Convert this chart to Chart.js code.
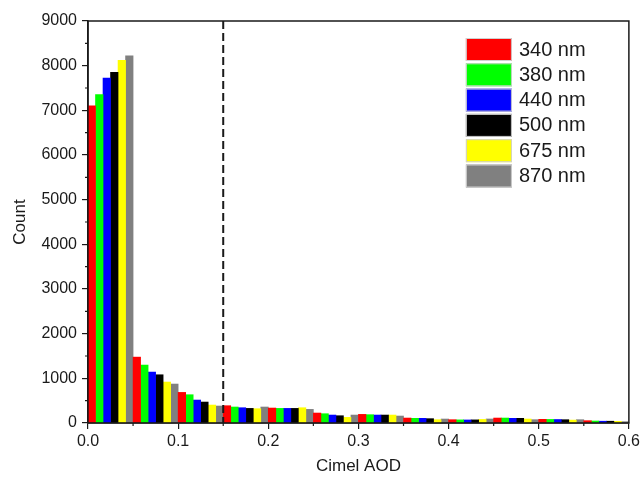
<!DOCTYPE html>
<html>
<head>
<meta charset="utf-8">
<script src="https://cdn.jsdelivr.net/npm/chart.js@4"></script>
<style>
  html, body { margin: 0; padding: 0; background: #fff; }
  canvas { display: block; }
</style>
</head>
<body>
<canvas id="chart" width="643" height="480"></canvas>
<script>
// bin centres of the 0.05-wide AOD bins
const binCenters = [0.025, 0.075, 0.125, 0.175, 0.225, 0.275, 0.325, 0.375, 0.425, 0.475, 0.525, 0.575]

const wavelengths = ['340 nm', '380 nm', '440 nm', '500 nm', '675 nm', '870 nm']
const colors = ['#ff0000', '#00ff00', '#0000ff', '#000000', '#ffff00', '#808080']

const count340 = [7100, 1475, 685, 387, 335, 223, 193, 111, 74, 111, 82, 52]
const count380 = [7350, 1297, 633, 358, 327, 208, 186, 104, 70, 111, 80, 45]
const count440 = [7720, 1140, 514, 342, 327, 178, 178, 104, 68, 104, 78, 40]
const count500 = [7850, 1080, 469, 327, 327, 163, 178, 97, 70, 104, 74, 40]
const count675 = [8120, 917, 402, 320, 342, 126, 178, 74, 80, 89, 65, 38]
const count870 = [8220, 872, 380, 358, 305, 178, 156, 89, 90, 74, 74, 30]

const yTicksMinor = [500, 1500, 2500, 3500, 4500, 5500, 6500, 7500, 8500]
const xTicksMinor = [0.05, 0.15, 0.25, 0.35, 0.45, 0.55]
const cutoff = 0.15

const series = [count340, count380, count440, count500, count675, count870]
const font = 'Liberation Sans, Arial, sans-serif'
const ink = '#1a1a1a'

const frame = {
  id: 'frame',
  afterDatasetsDraw(chart) {
    const { ctx, chartArea: a, scales } = chart
    ctx.save()
    // dashed cutoff line
    const xc = scales.x.getPixelForValue(cutoff)
    ctx.strokeStyle = ink
    ctx.lineWidth = 2
    ctx.setLineDash([8, 4])
    ctx.beginPath()
    ctx.moveTo(xc, a.top)
    ctx.lineTo(xc, a.bottom)
    ctx.stroke()
    ctx.setLineDash([])
    // box
    ctx.lineWidth = 1.5
    ctx.strokeRect(a.left, a.top, a.right - a.left, a.bottom - a.top)
    // minor ticks
    ctx.lineWidth = 1.2
    ctx.beginPath()
    for (const v of yTicksMinor) {
      const y = scales.y.getPixelForValue(v)
      ctx.moveTo(a.left - 3, y)
      ctx.lineTo(a.left, y)
    }
    for (const v of xTicksMinor) {
      const x = scales.x.getPixelForValue(v)
      ctx.moveTo(x, a.bottom)
      ctx.lineTo(x, a.bottom + 3)
    }
    ctx.stroke()
    // legend
    const bx = a.right - 163
    let by = a.top + 17
    ctx.font = '20px ' + font
    ctx.textBaseline = 'middle'
    ctx.textAlign = 'left'
    chart.data.datasets.forEach((ds) => {
      ctx.fillStyle = ds.backgroundColor
      ctx.fillRect(bx, by, 46, 23)
      ctx.strokeStyle = '#d0d0d0'
      ctx.lineWidth = 1
      ctx.strokeRect(bx + 0.5, by + 0.5, 45, 22)
      ctx.fillStyle = ink
      ctx.fillText(ds.label, bx + 53, by + 12)
      by += 25.3
    })
    ctx.restore()
  },
}

new Chart(document.getElementById('chart'), {
  type: 'bar',
  data: {
    datasets: series.map((values, i) => ({
      label: wavelengths[i],
      data: values.map((v, j) => ({ x: binCenters[j], y: v })),
      backgroundColor: colors[i],
      borderWidth: 0,
      categoryPercentage: 1,
      barPercentage: 1,
    })),
  },
  options: {
    responsive: false,
    animation: false,
    layout: { padding: { top: 21, right: 13, left: 0, bottom: 0 } },
    plugins: {
      legend: { display: false },
      tooltip: { enabled: false },
    },
    scales: {
      x: {
        type: 'linear',
        min: 0,
        max: 0.6,
        offset: false,
        afterFit(scale) { scale.height = 57 },
        grid: { offset: false, drawOnChartArea: false, tickLength: 6, color: ink, lineWidth: 1.2 },
        border: { color: ink, width: 1.5 },
        ticks: {
          stepSize: 0.1,
          padding: 3,
          color: ink,
          font: { family: font, size: 16 },
          callback: (v) => v.toFixed(1),
        },
        title: {
          display: true,
          text: 'Cimel AOD',
          color: ink,
          font: { family: font, size: 17 },
          padding: { top: 0, bottom: 3 },
        },
      },
      y: {
        min: 0,
        max: 9000,
        afterFit(scale) { scale.width = 88 },
        grid: { drawOnChartArea: false, tickLength: 6, color: ink, lineWidth: 1.2 },
        border: { color: ink, width: 1.5 },
        ticks: {
          stepSize: 1000,
          padding: 5,
          color: ink,
          font: { family: font, size: 16 },
          callback: (v) => String(v),
        },
        title: {
          display: true,
          text: 'Count',
          color: ink,
          font: { family: font, size: 17 },
          padding: { top: 10, bottom: 0 },
        },
      },
    },
  },
  plugins: [frame],
})
</script>
</body>
</html>
